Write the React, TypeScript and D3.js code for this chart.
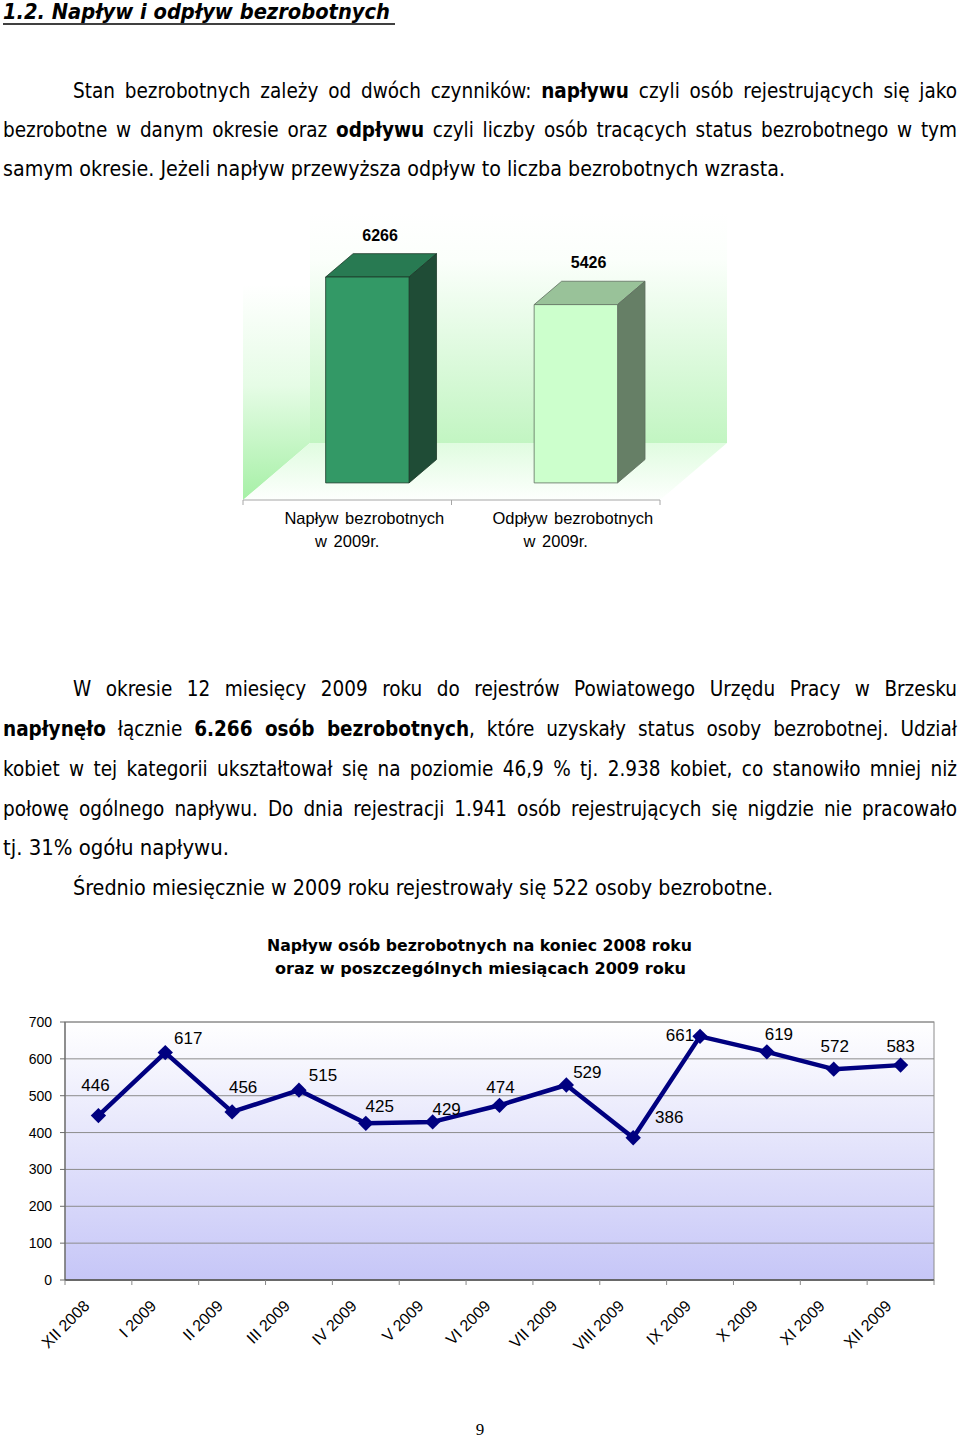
import React, { useEffect, useRef } from 'react';
import * as d3 from 'd3';

// ---- data ----
const barCategories = [
  ['Napływ bezrobotnych', 'w 2009r.'],
  ['Odpływ bezrobotnych', 'w 2009r.'],
];
const barValues = [6266, 5426];

const months = [
  'XII 2008', 'I 2009', 'II 2009', 'III 2009', 'IV 2009', 'V 2009', 'VI 2009',
  'VII 2009', 'VIII 2009', 'IX 2009', 'X 2009', 'XI 2009', 'XII 2009',
];
const inflow = [446, 617, 456, 515, 425, 429, 474, 529, 386, 661, 619, 572, 583];
const yTicks = [0, 100, 200, 300, 400, 500, 600, 700];

const heading = '1.2. Napływ i odpływ bezrobotnych';
const chartTitle = [
  'Napływ osób bezrobotnych na koniec 2008 roku',
  'oraz w poszczególnych miesiącach 2009 roku',
];

// text lines: [text, bold]
type Seg = [string, boolean];
const textLines: Seg[][] = [
  [['Stan bezrobotnych zależy od dwóch czynników: ', false], ['napływu', true], [' czyli osób rejestrujących się jako', false]],
  [['bezrobotne w danym okresie oraz ', false], ['odpływu', true], [' czyli liczby osób tracących status bezrobotnego w tym', false]],
  [['samym okresie. Jeżeli napływ przewyższa odpływ to liczba bezrobotnych wzrasta.', false]],
  [['W okresie 12 miesięcy 2009 roku do rejestrów Powiatowego Urzędu Pracy w Brzesku', false]],
  [['napłynęło', true], [' łącznie ', false], ['6.266 osób bezrobotnych', true], [', które uzyskały status osoby bezrobotnej. Udział', false]],
  [['kobiet w tej kategorii ukształtował się na poziomie 46,9 % tj. 2.938 kobiet, co stanowiło mniej niż', false]],
  [['połowę ogólnego napływu. Do dnia rejestracji 1.941 osób rejestrujących się nigdzie nie pracowało', false]],
  [['tj. 31% ogółu napływu.', false]],
  [['Średnio miesięcznie w 2009 roku rejestrowały się 522 osoby bezrobotne.', false]],
];
// layout of the lines: x, baseline, width, justified
const lineLayout = [
  [73, 98, 884, 1], [3, 137, 954, 1], [3, 176, 782, 0],
  [73, 696, 884, 1], [3, 736, 954, 1], [3, 776, 954, 1], [3, 816, 954, 1],
  [3, 855, 226, 0], [73, 895, 700, 0],
];

// label placement relative to each marker (layout only)
const labelShift = [
  [-3, -25], [23, -9], [11, -19], [24, -9], [14, -11], [14, -7], [1, -12],
  [21, -7], [36, -15], [-20, 5], [12, -12], [1, -17], [0, -13],
];

const bodyFont = '"DejaVu Sans Condensed", "DejaVu Sans", Verdana, sans-serif';
const chartFont = '"Liberation Sans", Arial, sans-serif';

export default function App() {
  const svgRef = useRef<SVGSVGElement>(null);

  useEffect(() => {
    document.body.style.margin = '0';
    const svg = d3.select(svgRef.current);
    svg.selectAll<SVGTextElement, unknown>('text.fit').each(function () {
      const el = this as SVGTextElement;
      const target = +(el.getAttribute('data-w') || 0);
      const justify = el.getAttribute('data-j') === '1';
      const natural = el.getComputedTextLength();
      const spaces = ((el.textContent || '').match(/ /g) || []).length;
      if (justify && target > natural && spaces > 0) {
        el.style.wordSpacing = (target - natural) / spaces + 'px';
      } else {
        el.setAttribute('textLength', String(target));
        el.setAttribute('lengthAdjust', 'spacingAndGlyphs');
      }
    });
  }, []);

  // ---- 3D bar chart ----
  const front = { x0: 243, x1: 660, y: 500 };
  const depth = { dx: 67, dy: -57 };
  const barDepth0 = 0.3;
  const barDepth1 = 0.71;
  const bx = d3.scaleBand<number>().domain(d3.range(barValues.length)).range([front.x0, front.x1]);
  const bh = d3.scaleLinear().domain([0, 7000]).range([0, 230]);
  const wallTop = front.y + depth.dy - bh(7000);
  const bw = bx.bandwidth() * 0.4;
  const barColors = [
    { front: '#339966', top: '#287a52', side: '#1f4c36', stroke: '#1d3a2a' },
    { front: '#ccffcc', top: '#99c299', side: '#667f66', stroke: '#5f6f5f' },
  ];

  const pts = (arr: number[][]) => arr.map(p => p.join(',')).join(' ');

  // ---- line chart ----
  const plot = { left: 65, right: 934, top: 1022, bottom: 1280 };
  const x = d3.scaleBand<string>().domain(months).range([plot.left, plot.right]);
  const y = d3.scaleLinear().domain([0, 700]).range([plot.bottom, plot.top]);
  const line = d3.line<number>()
    .x((d, i) => (x(months[i]) as number) + x.bandwidth() / 2)
    .y(d => y(d));
  const diamond = d3.symbol().type(d3.symbolDiamond2).size(150);

  return (
    <svg ref={svgRef} width={960} height={1440} style={{ position: 'absolute', left: 0, top: 0, background: '#fff' }}>
      <defs>
        <linearGradient id="wallGrad" x1="0" y1="0" x2="0" y2="1">
          <stop offset="0" stopColor="#ffffff" />
          <stop offset="0.2" stopColor="#fbfffb" />
          <stop offset="1" stopColor="#c2f5c2" />
        </linearGradient>
        <linearGradient id="floorGrad" x1="0" y1="0" x2="0" y2="1">
          <stop offset="0" stopColor="#e0fce0" />
          <stop offset="1" stopColor="#fdfffd" />
        </linearGradient>
        <linearGradient id="sideGrad" x1="0" y1="0" x2="0" y2="1">
          <stop offset="0" stopColor="#ffffff" />
          <stop offset="0.25" stopColor="#ffffff" />
          <stop offset="0.6" stopColor="#e6fce6" />
          <stop offset="1" stopColor="#a6f0a6" />
        </linearGradient>
        <linearGradient id="plotGrad" x1="0" y1="0" x2="0" y2="1">
          <stop offset="0" stopColor="#ffffff" />
          <stop offset="1" stopColor="#c6c6f7" />
        </linearGradient>
      </defs>

      {/* heading */}
      <text className="fit" data-w={387} data-j="0" x={3} y={19} fontFamily={bodyFont} fontSize={21}
        fontWeight="bold" fontStyle="italic" fill="#000">{heading}</text>
      <line x1={3} x2={395} y1={24} y2={24} stroke="#000" strokeWidth={1.5} />

      {/* body text */}
      {textLines.map((segs, i) => {
        const [lx, ly, lw, lj] = lineLayout[i];
        return (
          <text key={i} className="fit" data-w={lw} data-j={lj} x={lx} y={ly}
            fontFamily={bodyFont} fontSize={20.5} fill="#000" style={{ whiteSpace: 'pre' }}>
            {segs.map((s, k) => (
              <tspan key={k} fontWeight={s[1] ? 'bold' : 'normal'}>{s[0]}</tspan>
            ))}
          </text>
        );
      })}

      {/* 3D column chart */}
      <g>
        <polygon fill="url(#sideGrad)" points={pts([
          [front.x0, front.y], [front.x0, front.y - bh(7000)],
          [front.x0 + depth.dx, wallTop], [front.x0 + depth.dx, front.y + depth.dy],
        ])} />
        <polygon fill="url(#wallGrad)" points={pts([
          [front.x0 + depth.dx, wallTop], [front.x1 + depth.dx, wallTop],
          [front.x1 + depth.dx, front.y + depth.dy], [front.x0 + depth.dx, front.y + depth.dy],
        ])} />
        <polygon fill="url(#floorGrad)" points={pts([
          [front.x0, front.y], [front.x0 + depth.dx, front.y + depth.dy],
          [front.x1 + depth.dx, front.y + depth.dy], [front.x1, front.y],
        ])} />
        {barValues.map((v, i) => {
          const c = barColors[i];
          const cx = (bx(i) as number) + bx.bandwidth() / 2 + depth.dx * barDepth0;
          const x0 = cx - bw / 2;
          const x1 = cx + bw / 2;
          const yb = front.y + depth.dy * barDepth0;
          const yt = yb - bh(v);
          const ddx = depth.dx * (barDepth1 - barDepth0);
          const ddy = depth.dy * (barDepth1 - barDepth0);
          return (
            <g key={i} stroke={c.stroke} strokeWidth={0.8} strokeLinejoin="round">
              <polygon fill={c.top} points={pts([[x0, yt], [x0 + ddx, yt + ddy], [x1 + ddx, yt + ddy], [x1, yt]])} />
              <polygon fill={c.side} points={pts([[x1, yt], [x1 + ddx, yt + ddy], [x1 + ddx, yb + ddy], [x1, yb]])} />
              <rect x={x0} y={yt} width={bw} height={bh(v)} fill={c.front} />
              <text x={cx + ddx / 2 - 1} y={yt + ddy - 13} textAnchor="middle" fontFamily={chartFont}
                fontWeight="bold" fontSize={16} fill="#000" stroke="none">{v}</text>
            </g>
          );
        })}
        <line x1={front.x0} x2={front.x1} y1={front.y} y2={front.y} stroke="#a6a6a6" />
        {d3.range(barValues.length + 1).map(i => {
          const tx = i < barValues.length ? (bx(i) as number) : front.x1;
          return <line key={i} x1={tx} x2={tx} y1={front.y} y2={front.y + 5} stroke="#a6a6a6" />;
        })}
        {barCategories.map((c, i) => {
          const cx = (bx(i) as number) + bx.bandwidth() / 2 + 17;
          return (
            <g key={i} fontFamily={chartFont} fontSize={16.5} fill="#000">
              <text x={cx} y={524} textAnchor="middle" style={{ wordSpacing: '2px' }}>{c[0]}</text>
              <text x={cx - 17} y={547} textAnchor="middle" style={{ wordSpacing: '2px' }}>{c[1]}</text>
            </g>
          );
        })}
      </g>

      {/* line chart title */}
      {chartTitle.map((t, i) => (
        <text key={i} className="fit" data-w={i === 0 ? 425 : 411} data-j="0"
          x={i === 0 ? 267 : 275} y={951 + i * 23} fontFamily={bodyFont} fontWeight="bold"
          fontSize={16.5} fill="#000">{t}</text>
      ))}

      {/* line chart */}
      <g>
        <rect x={plot.left} y={plot.top} width={plot.right - plot.left} height={plot.bottom - plot.top}
          fill="url(#plotGrad)" stroke="#8c8c8c" strokeWidth={1} />
        {yTicks.map(t => (
          <g key={t}>
            <line x1={plot.left} x2={plot.right} y1={y(t)} y2={y(t)} stroke="#8c8c8c" strokeWidth={1} />
            <line x1={plot.left - 5} x2={plot.left} y1={y(t)} y2={y(t)} stroke="#6a6a6a" />
            <text x={52} y={y(t) + 5} textAnchor="end" fontFamily={chartFont} fontSize={14} fill="#000">{t}</text>
          </g>
        ))}
        <line x1={plot.left} x2={plot.left} y1={plot.top} y2={plot.bottom} stroke="#6a6a6a" strokeWidth={1.2} />
        <line x1={plot.left} x2={plot.right} y1={plot.bottom} y2={plot.bottom} stroke="#555" strokeWidth={1.5} />
        {months.map(m => (
          <line key={m} x1={x(m)} x2={x(m)} y1={plot.bottom} y2={plot.bottom + 5} stroke="#888" />
        ))}
        <line x1={plot.right} x2={plot.right} y1={plot.bottom} y2={plot.bottom + 5} stroke="#888" />
        {months.map(m => {
          const cx = (x(m) as number) + x.bandwidth() / 2;
          return (
            <text key={m} transform={`translate(${cx - 8},${plot.bottom + 27}) rotate(-45)`} textAnchor="end"
              fontFamily={chartFont} fontSize={16} fill="#000">{m}</text>
          );
        })}
        <path d={line(inflow) || ''} fill="none" stroke="#000080" strokeWidth={4.5} strokeLinejoin="round" />
        {inflow.map((v, i) => {
          const cx = (x(months[i]) as number) + x.bandwidth() / 2;
          return (
            <g key={i}>
              <path transform={`translate(${cx},${y(v)})`} d={diamond() || ''} fill="#000080" />
              <text x={cx + labelShift[i][0]} y={y(v) + labelShift[i][1]} textAnchor="middle"
                fontFamily={chartFont} fontSize={17} fill="#000">{v}</text>
            </g>
          );
        })}
      </g>

      {/* page number */}
      <text x={480} y={1435} textAnchor="middle" fontFamily='"Liberation Serif", serif' fontSize={17} fill="#000">9</text>
    </svg>
  );
}
